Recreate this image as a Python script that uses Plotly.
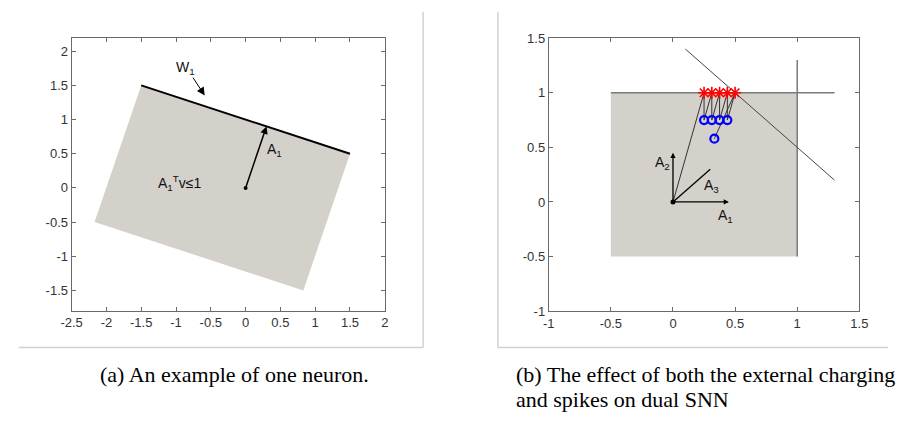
import plotly.graph_objects as go

# ---------------- data: left panel (a) ----------------
halfspace_x = [-1.5, 1.5, 0.83, -2.17, -1.5]
halfspace_y = [1.5, 0.5, -1.5, -0.5, 1.5]
boundary_x = [-1.5, 1.5]
boundary_y = [1.5, 0.5]
a1_vec = [0.3, 0.9]
w1_arrow_tail = [-0.77, 1.635]
w1_arrow_head = [-0.587, 1.353]
left_xticks = [-2.5, -2, -1.5, -1, -0.5, 0, 0.5, 1, 1.5, 2]
left_xticklabels = ["-2.5", "-2", "-1.5", "-1", "-0.5", "0", "0.5", "1", "1.5", "2"]
left_yticks = [-1.5, -1, -0.5, 0, 0.5, 1, 1.5, 2]
left_yticklabels = ["-1.5", "-1", "-0.5", "0", "0.5", "1", "1.5", "2"]

# ---------------- data: right panel (b) ----------------
box_x = [-0.5, 1, 1, -0.5, -0.5]
box_y = [-0.5, -0.5, 1, 1, -0.5]
hline_x = [-0.5, 1.3]
hline_y = [1, 1]
vline_x = [1, 1]
vline_y = [-0.5, 1.3]
diag_x = [0.1, 1.3]
diag_y = [1.4, 0.2]
spike_x = [0.25, 0.3125, 0.375, 0.4375, 0.5]
spike_y = [1, 1, 1, 1, 1]
reset_x = [0.25, 0.3125, 0.375, 0.4375, 0.333]
reset_y = [0.75, 0.75, 0.75, 0.75, 0.58]
vec_A1 = [0.45, 0]
vec_A2 = [0, 0.45]
vec_A3 = [0.3, 0.3]
right_xticks = [-1, -0.5, 0, 0.5, 1, 1.5]
right_xticklabels = ["-1", "-0.5", "0", "0.5", "1", "1.5"]
right_yticks = [-1, -0.5, 0, 0.5, 1, 1.5]
right_yticklabels = ["-1", "-0.5", "0", "0.5", "1", "1.5"]

captions = ["(a) An example of one neuron.",
            "(b) The effect of both the external charging",
            "and spikes on dual SNN"]

FILL = "#d4d0ca"
AX = "#6a6a6a"
TICKFONT = dict(family="Liberation Sans, Arial, sans-serif", size=13, color="#333")
LBLFONT = dict(family="Liberation Sans, Arial, sans-serif", size=14, color="#111")

fig = go.Figure()

# ---- left panel ----
fig.add_trace(go.Scatter(x=halfspace_x, y=halfspace_y, fill="toself", fillcolor=FILL,
                         mode="none", xaxis="x", yaxis="y", showlegend=False, hoverinfo="skip"))
fig.add_trace(go.Scatter(x=boundary_x, y=boundary_y, mode="lines",
                         line=dict(color="#000", width=2), xaxis="x", yaxis="y", showlegend=False))
fig.add_trace(go.Scatter(x=[0], y=[0], mode="markers", marker=dict(color="#000", size=4),
                         xaxis="x", yaxis="y", showlegend=False))

# ---- right panel ----
fig.add_trace(go.Scatter(x=box_x, y=box_y, fill="toself", fillcolor=FILL,
                         mode="none", xaxis="x2", yaxis="y2", showlegend=False, hoverinfo="skip"))
fig.add_trace(go.Scatter(x=hline_x, y=hline_y, mode="lines", line=dict(color="#7a7a7a", width=1.5),
                         xaxis="x2", yaxis="y2", showlegend=False))
fig.add_trace(go.Scatter(x=vline_x, y=vline_y, mode="lines", line=dict(color="#7a7a7a", width=1.5),
                         xaxis="x2", yaxis="y2", showlegend=False))
fig.add_trace(go.Scatter(x=diag_x, y=diag_y, mode="lines", line=dict(color="#444", width=1),
                         xaxis="x2", yaxis="y2", showlegend=False))
# trajectory: origin -> spike1 -> reset1 -> spike2 -> ... -> spike5 -> reset5
traj_x = [0]
traj_y = [0]
for i in range(len(spike_x)):
    traj_x += [spike_x[i], reset_x[i]]
    traj_y += [spike_y[i], reset_y[i]]
fig.add_trace(go.Scatter(x=traj_x, y=traj_y, mode="lines", line=dict(color="#333", width=1),
                         xaxis="x2", yaxis="y2", showlegend=False))
fig.add_trace(go.Scatter(x=spike_x, y=spike_y, mode="markers",
                         marker=dict(symbol="asterisk-open", size=10, color="#ff0000",
                                     line=dict(color="#ff0000", width=1.6)),
                         xaxis="x2", yaxis="y2", showlegend=False))
fig.add_trace(go.Scatter(x=reset_x, y=reset_y, mode="markers",
                         marker=dict(symbol="circle-open", size=8, color="#0000ff",
                                     line=dict(color="#0000ff", width=2.2)),
                         xaxis="x2", yaxis="y2", showlegend=False))
fig.add_trace(go.Scatter(x=[0, vec_A3[0]], y=[0, vec_A3[1]], mode="lines", line=dict(color="#000", width=1.3),
                         xaxis="x2", yaxis="y2", showlegend=False))
fig.add_trace(go.Scatter(x=[0], y=[0], mode="markers", marker=dict(color="#000", size=5),
                         xaxis="x2", yaxis="y2", showlegend=False))

annotations = []


def arrow(xref, yref, tail, head, width=1.3, size=1.0):
    annotations.append(dict(x=head[0], y=head[1], ax=tail[0], ay=tail[1],
                            xref=xref, yref=yref, axref=xref, ayref=yref,
                            text="", showarrow=True, arrowhead=2, arrowsize=size,
                            arrowwidth=width, arrowcolor="#000"))


arrow("x", "y", [0, 0], a1_vec, width=1.5, size=1.0)
arrow("x", "y", w1_arrow_tail, w1_arrow_head, width=1.0, size=1.6)
arrow("x2", "y2", [0, 0], vec_A1, width=1.3, size=0.8)
arrow("x2", "y2", [0, 0], vec_A2, width=1.3, size=0.8)

annotations += [
    dict(x=-0.87, y=1.76, xref="x", yref="y", text="W<sub>1</sub>", showarrow=False, font=LBLFONT),
    dict(x=0.42, y=0.55, xref="x", yref="y", text="A<sub>1</sub>", showarrow=False, font=LBLFONT),
    dict(x=-0.95, y=0.07, xref="x", yref="y", text="A<sub>1</sub><sup>T</sup>v≤1", showarrow=False, font=LBLFONT),
    dict(x=-0.087, y=0.355, xref="x2", yref="y2", text="A<sub>2</sub>", showarrow=False, font=LBLFONT),
    dict(x=0.306, y=0.15, xref="x2", yref="y2", text="A<sub>3</sub>", showarrow=False, font=LBLFONT),
    dict(x=0.424, y=-0.13, xref="x2", yref="y2", text="A<sub>1</sub>", showarrow=False, font=LBLFONT),
]

CAPFONT = dict(family="Liberation Serif, Times New Roman, serif", size=22, color="#000")
annotations += [
    dict(x=89 / 897, y=1 - 381 / 425, xref="paper", yref="paper", xanchor="left", yanchor="middle",
         text=captions[0], showarrow=False, font=CAPFONT),
    dict(x=514 / 897, y=1 - 381 / 425, xref="paper", yref="paper", xanchor="left", yanchor="middle",
         text=captions[1], showarrow=False, font=CAPFONT),
    dict(x=514 / 897, y=1 - 407 / 425, xref="paper", yref="paper", xanchor="left", yanchor="middle",
         text=captions[2], showarrow=False, font=CAPFONT),
]

FRAME = dict(color="#d2d2d2", width=1.5)
shapes = [
    dict(type="line", xref="paper", yref="paper", x0=421.5 / 897, x1=421.5 / 897, y0=1 - 5 / 425, y1=1 - 353 / 425, line=FRAME),
    dict(type="line", xref="paper", yref="paper", x0=8 / 897, x1=421.5 / 897, y0=1 - 353 / 425, y1=1 - 353 / 425, line=FRAME),
    dict(type="line", xref="paper", yref="paper", x0=498 / 897, x1=498 / 897, y0=1 - 5 / 425, y1=1 - 353 / 425, line=FRAME),
    dict(type="line", xref="paper", yref="paper", x0=498 / 897, x1=1, y0=1 - 353 / 425, y1=1 - 353 / 425, line=FRAME),
]

axis_common = dict(showgrid=False, zeroline=False, showline=True, linecolor=AX, linewidth=1,
                   mirror="ticks", ticks="inside", ticklen=4, tickcolor=AX, tickwidth=1,
                   tickfont=TICKFONT, fixedrange=True)

fig.update_layout(
    width=897, height=425,
    margin=dict(l=0, r=0, t=0, b=0),
    paper_bgcolor="white", plot_bgcolor="white",
    xaxis=dict(domain=[62 / 897, 382.3 / 897], range=[-2.5, 2], anchor="y",
               tickvals=left_xticks, ticktext=left_xticklabels, **axis_common),
    yaxis=dict(domain=[1 - 315 / 425, 1 - 31.7 / 425], range=[-1.8, 2.2], anchor="x",
               tickvals=left_yticks, ticktext=left_yticklabels, **axis_common),
    xaxis2=dict(domain=[550 / 897, 867.7 / 897], range=[-1, 1.5], anchor="y2",
                tickvals=right_xticks, ticktext=right_xticklabels, **axis_common),
    yaxis2=dict(domain=[1 - 315.3 / 425, 1 - 32.3 / 425], range=[-1, 1.5], anchor="x2",
                tickvals=right_yticks, ticktext=right_yticklabels, **axis_common),
    annotations=annotations,
    shapes=shapes,
)

fig.write_html("out.html", config={"displayModeBar": False},
               post_script="document.body.style.margin='0';document.body.style.overflow='hidden';")
